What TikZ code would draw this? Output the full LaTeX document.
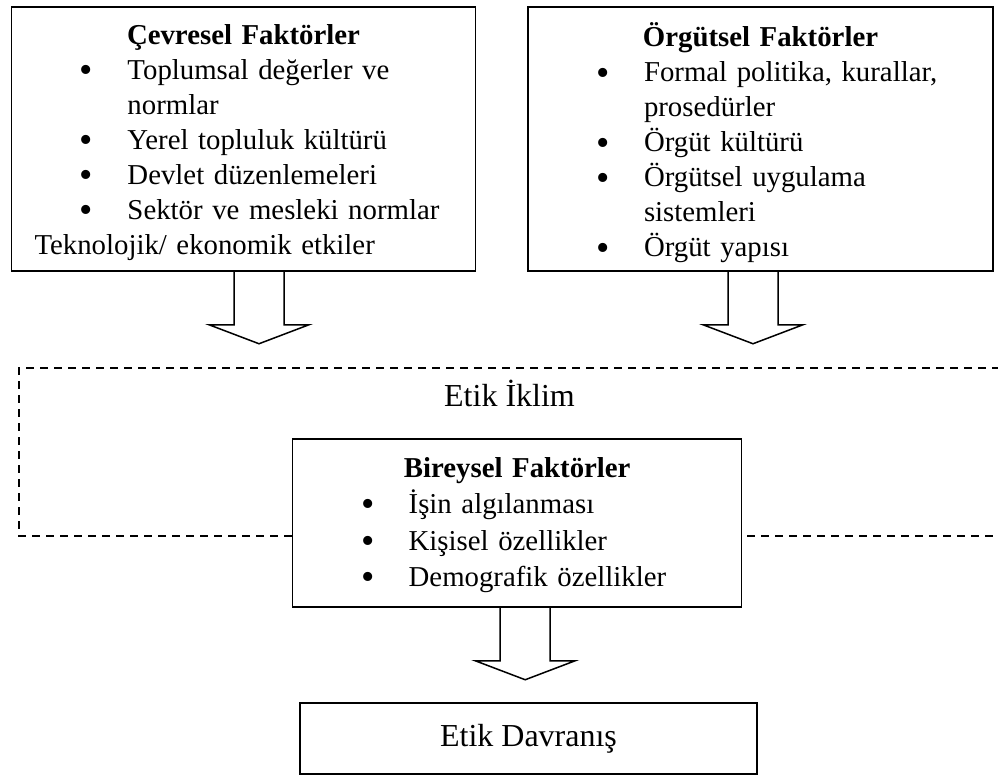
\documentclass[tikz,border=0pt]{standalone}
\usepackage{fontspec}
\setmainfont{Liberation Serif}
\usetikzlibrary{calc}
\setlength{\parindent}{0pt}
\newcommand{\baslik}[2]{{\centering\bfseries\rule{0pt}{#1}#2\par}}
\newcommand{\madde}[1]{\hspace*{22.7pt}\makebox[23.8pt][l]{\raisebox{-1.6pt}{\fontsize{19}{0}\selectfont\textbullet}}#1\par}
\newcommand{\devam}[1]{\hspace*{46.5pt}#1\par}
\newcommand{\bosok}[1]{\draw[hollow] ($(#1)+(-25,0)$) -- ++(0,53) -- ++(-25,0) -- ++(50,19) -- ++(50,-19) -- ++(-25,0) -- ++(0,-53);}

\begin{document}
\begin{tikzpicture}[x=0.5pt,y=-0.5pt]
        \tikzstyle{factbox} = [draw, rectangle, line width=0.75pt, inner xsep=11.5pt, inner ysep=0pt, font=\fontsize{14.4}{17.5}\selectfont]
        \tikzstyle{plainbox} = [draw, rectangle, line width=0.75pt, font=\fontsize{16}{19}\selectfont]
        \tikzstyle{hollow} = [draw, line width=0.75pt, line join=miter]
        \tikzstyle{climate} = [draw, line width=0.75pt, dash pattern=on 4pt off 3pt]
        \useasboundingbox (0,0) rectangle (998,776);

        \node (cev) [factbox, text width=209pt, minimum height=132pt] at (243.5,139) {
            \baslik{13.3pt}{Çevresel Faktörler}
            \madde{Toplumsal değerler ve}
            \devam{normlar}
            \madde{Yerel topluluk kültürü}
            \madde{Devlet düzenlemeleri}
            \madde{Sektör ve mesleki normlar}
            Teknolojik/ ekonomik etkiler};
        \node (org) [factbox, text width=209.5pt, minimum height=132pt] at (760.5,139) {
            \baslik{16pt}{Örgütsel Faktörler}
            \madde{Formal politika, kurallar,}
            \devam{prosedürler}
            \madde{Örgüt kültürü}
            \madde{Örgütsel uygulama}
            \devam{sistemleri}
            \madde{Örgüt yapısı}};
        \node (bir) [factbox, text width=201.5pt, minimum height=84pt, font=\fontsize{14.4}{18.25}\selectfont] at (517.2,523) {
            \baslik{12pt}{Bireysel Faktörler}
            \madde{İşin algılanması}
            \madde{Kişisel özellikler}
            \madde{Demografik özellikler}};
        \node (dav) [plainbox, minimum width=228.5pt, minimum height=35.5pt] at (528.5,738.7) {Etik Davranış};
        \node (iklim) [font=\fontsize{16}{19}\selectfont, anchor=base] at (509.5,406.7) {Etik İklim};

        % etik iklim cercevesi
        \coordinate (clnw) at (19,368);
        \coordinate (clsw) at (19,536);
        \coordinate (clne) at (998,368);
        \coordinate (clse) at (998,536);
        \draw[climate] (bir.west |- clsw) -- (clsw) -- (clnw) -- (clne);
        \draw[climate] ($(bir.east |- clse)+(5,0)$) -- (clse);

        % oklar
        \coordinate (a1) at ($(cev.south)+(15.5,0)$);
        \coordinate (a2) at ($(org.south)+(-7.5,0)$);
        \coordinate (a3) at ($(bir.south)+(8,0)$);
        \bosok{a1}
        \bosok{a2}
        \bosok{a3}
    \end{tikzpicture}
\end{document}
